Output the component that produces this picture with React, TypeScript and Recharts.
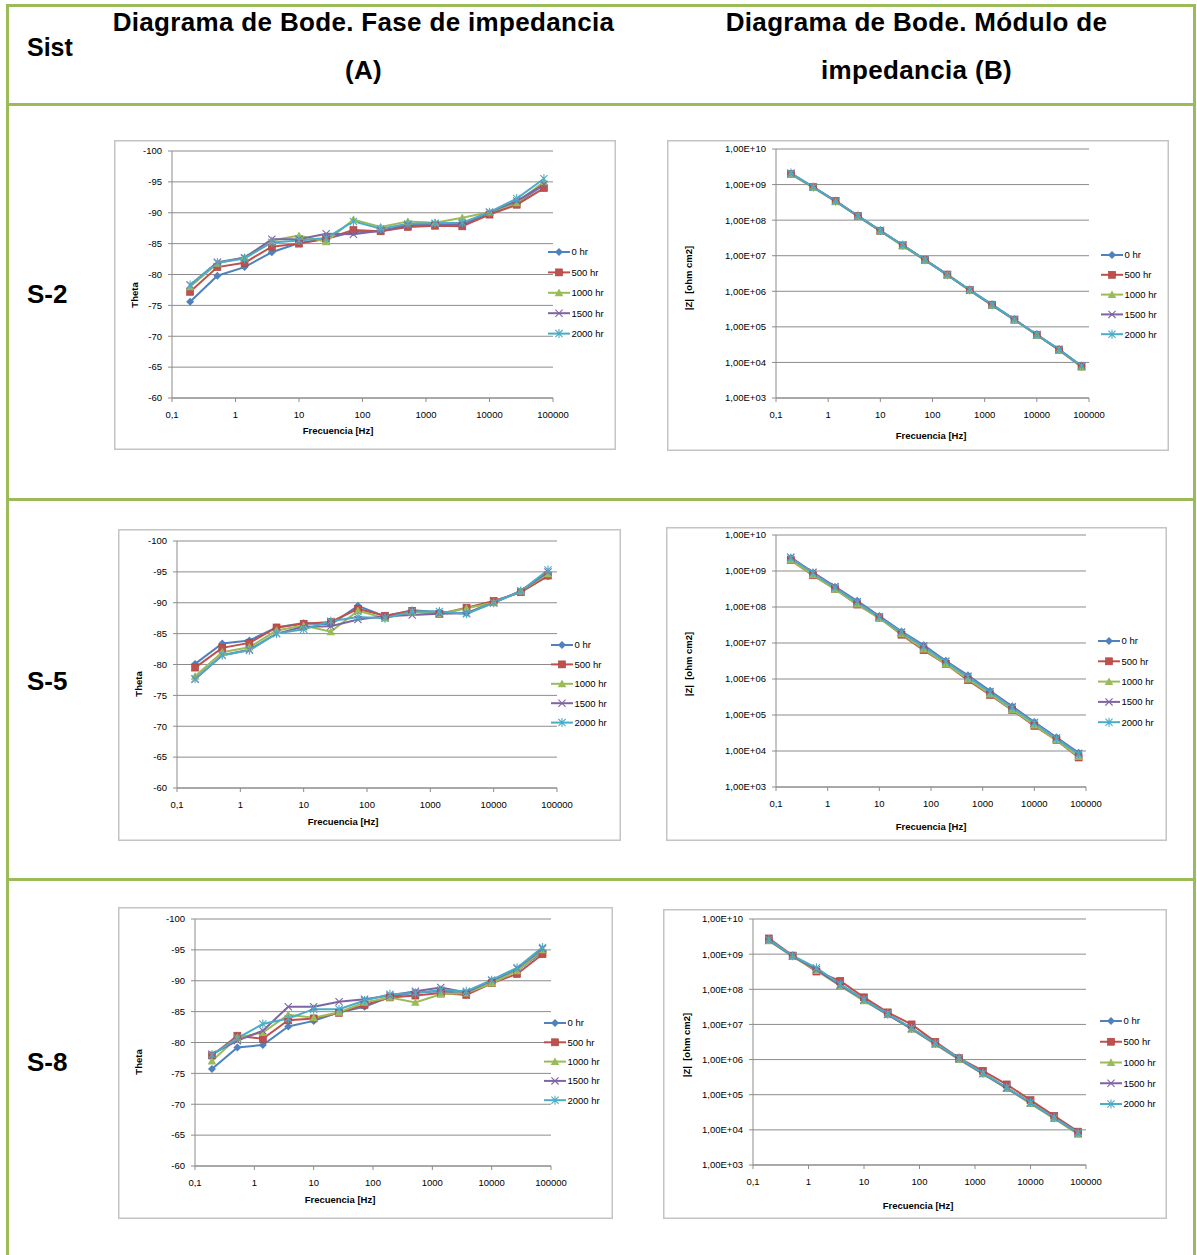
import React from 'react';
import { LineChart, Line, XAxis, YAxis, CartesianGrid, Legend, Label } from 'recharts';

const FREQ = [0.193, 0.518, 1.39, 3.73, 10, 26.8, 72, 193, 518, 1390, 3730, 10000, 26800, 72000];
const SERIES_NAMES = ['0 hr', '500 hr', '1000 hr', '1500 hr', '2000 hr'];
const SERIES_COLORS = ['#4F81BD', '#C0504D', '#9BBB59', '#8064A2', '#4BACC6'];
const X_TICKS = [0.1, 1, 10, 100, 1000, 10000, 100000];
const PHASE_TICKS = [-100, -95, -90, -85, -80, -75, -70, -65, -60];
const MOD_TICKS = [1e3, 1e4, 1e5, 1e6, 1e7, 1e8, 1e9, 1e10];
const ROW_LABELS = ['S-2', 'S-5', 'S-8'];

// S-2 phase
const S2_PH_0 = [-75.6, -79.8, -81.2, -83.6, -85.1, -85.8, -86.9, -87.0, -87.8, -88.0, -88.0, -89.8, -91.6, -94.5];
const S2_PH_500 = [-77.2, -81.2, -81.9, -84.5, -85.0, -85.8, -87.2, -87.0, -87.7, -87.9, -87.8, -89.7, -91.3, -94.0];
const S2_PH_1000 = [-78.0, -81.8, -82.8, -85.5, -86.3, -85.3, -88.9, -87.7, -88.6, -88.4, -89.2, -90.1, -91.6, -95.0];
const S2_PH_1500 = [-78.3, -82.0, -82.7, -85.7, -85.7, -86.6, -86.5, -87.1, -88.0, -88.2, -88.2, -90.1, -91.9, -94.6];
const S2_PH_2000 = [-78.3, -81.9, -82.6, -85.2, -85.5, -85.9, -88.6, -87.4, -88.2, -88.3, -88.4, -90.1, -92.3, -95.5];

// S-5 phase
const S5_PH_0 = [-80.1, -83.4, -83.9, -86.0, -86.7, -86.5, -89.5, -87.8, -88.8, -88.5, -88.3, -90.1, -91.8, -94.3];
const S5_PH_500 = [-79.5, -82.7, -83.5, -86.0, -86.6, -86.9, -89.0, -87.9, -88.7, -88.2, -89.2, -90.3, -91.7, -94.4];
const S5_PH_1000 = [-78.1, -82.0, -82.8, -85.5, -86.3, -85.3, -88.7, -87.5, -88.5, -88.2, -89.1, -90.0, -91.9, -94.7];
const S5_PH_1500 = [-77.6, -81.5, -82.4, -85.0, -86.1, -86.2, -87.3, -87.8, -88.0, -88.2, -88.3, -90.0, -91.9, -95.0];
const S5_PH_2000 = [-77.7, -81.5, -82.3, -85.0, -85.7, -87.0, -87.7, -87.5, -88.6, -88.6, -88.2, -90.0, -91.9, -95.3];

// S-8 phase
const S8_PH_0 = [-75.7, -79.2, -79.6, -82.6, -83.5, -84.9, -85.8, -87.4, -88.1, -88.3, -88.0, -90.0, -91.6, -94.7];
const S8_PH_500 = [-77.9, -81.1, -80.6, -83.6, -83.9, -84.8, -86.1, -87.3, -87.6, -88.0, -87.7, -89.6, -91.1, -94.3];
const S8_PH_1000 = [-77.0, -80.8, -81.6, -84.5, -84.0, -84.9, -86.5, -87.3, -86.5, -87.8, -88.0, -89.6, -91.6, -95.0];
const S8_PH_1500 = [-78.1, -80.3, -81.9, -85.8, -85.8, -86.6, -87.0, -87.6, -88.3, -88.9, -88.1, -90.1, -92.0, -95.2];
const S8_PH_2000 = [-78.0, -80.7, -83.0, -83.9, -85.4, -85.4, -86.8, -87.8, -88.0, -88.5, -88.3, -90.1, -92.1, -95.4];

// S-2 modulus
const S2_MOD_0 = [2.0e9, 8.4e8, 3.4e8, 1.3e8, 5.0e7, 1.95e7, 7.6e6, 2.9e6, 1.07e6, 4.1e5, 1.6e5, 6.0e4, 2.25e4, 7.8e3];
const S2_MOD_500 = [2.0e9, 8.5e8, 3.5e8, 1.32e8, 5.0e7, 1.95e7, 7.7e6, 2.95e6, 1.08e6, 4.2e5, 1.6e5, 6.0e4, 2.3e4, 7.7e3];
const S2_MOD_1000 = [1.95e9, 8.2e8, 3.3e8, 1.28e8, 4.9e7, 1.9e7, 7.4e6, 2.85e6, 1.05e6, 4.0e5, 1.55e5, 5.8e4, 2.2e4, 7.4e3];
const S2_MOD_1500 = [2.05e9, 8.5e8, 3.4e8, 1.3e8, 5.1e7, 2.0e7, 7.6e6, 2.9e6, 1.07e6, 4.1e5, 1.6e5, 6.0e4, 2.25e4, 7.9e3];
const S2_MOD_2000 = [2.1e9, 8.6e8, 3.4e8, 1.33e8, 5.1e7, 2.0e7, 7.7e6, 2.9e6, 1.1e6, 4.2e5, 1.6e5, 6.1e4, 2.3e4, 8.0e3];

// S-5 modulus
const S5_MOD_0 = [2.3e9, 9.0e8, 3.6e8, 1.48e8, 5.6e7, 2.1e7, 8.7e6, 3.2e6, 1.27e6, 4.7e5, 1.75e5, 6.4e4, 2.4e4, 8.9e3];
const S5_MOD_500 = [2.0e9, 7.6e8, 3.2e8, 1.17e8, 5.1e7, 1.7e7, 6.3e6, 2.6e6, 9.3e5, 3.6e5, 1.36e5, 5.0e4, 2.0e4, 6.6e3];
const S5_MOD_1000 = [2.0e9, 7.8e8, 3.1e8, 1.2e8, 4.8e7, 1.8e7, 6.8e6, 2.6e6, 1.0e6, 3.8e5, 1.4e5, 5.2e4, 2.0e4, 7.0e3];
const S5_MOD_1500 = [2.4e9, 9.2e8, 3.7e8, 1.4e8, 5.4e7, 2.0e7, 8.2e6, 3.1e6, 1.2e6, 4.5e5, 1.7e5, 6.2e4, 2.3e4, 8.6e3];
const S5_MOD_2000 = [2.3e9, 8.8e8, 3.4e8, 1.35e8, 5.2e7, 2.0e7, 7.8e6, 3.0e6, 1.15e6, 4.3e5, 1.6e5, 6.0e4, 2.2e4, 8.2e3];

// S-8 modulus
const S8_MOD_0 = [2.6e9, 8.8e8, 3.5e8, 1.35e8, 5.0e7, 1.9e7, 7.6e6, 2.8e6, 1.05e6, 4.0e5, 1.6e5, 5.8e4, 2.2e4, 8.2e3];
const S8_MOD_500 = [2.8e9, 9.1e8, 3.2e8, 1.73e8, 5.9e7, 2.2e7, 1.0e7, 3.2e6, 1.1e6, 4.8e5, 1.96e5, 7.0e4, 2.5e4, 8.9e3];
const S8_MOD_1000 = [2.4e9, 8.5e8, 3.4e8, 1.25e8, 4.7e7, 1.9e7, 7.3e6, 2.7e6, 1.0e6, 3.9e5, 1.5e5, 5.6e4, 2.1e4, 7.5e3];
const S8_MOD_1500 = [2.5e9, 8.7e8, 3.6e8, 1.3e8, 5.0e7, 1.9e7, 7.6e6, 2.8e6, 1.05e6, 4.0e5, 1.55e5, 5.8e4, 2.2e4, 8.0e3];
const S8_MOD_2000 = [2.6e9, 9.0e8, 4.1e8, 1.4e8, 5.1e7, 2.0e7, 7.8e6, 2.9e6, 1.1e6, 4.1e5, 1.6e5, 6.0e4, 2.2e4, 8.3e3];

const GREEN = '#9BBB59';
const FONT = '"Liberation Sans", Arial, sans-serif';
const SMALL = 9.5;

type Cfg = {
  kind: 'phase' | 'mod';
  series: number[][];
  box: number[];
  plot: number[];
  legend: number[];
  ylab: number[];
  xlab: number[];
};

const CHARTS: Cfg[] = [
  { kind: 'phase', series: [S2_PH_0, S2_PH_500, S2_PH_1000, S2_PH_1500, S2_PH_2000],
    box: [114, 140, 502, 310], plot: [172, 151, 553, 398], legend: [548, 252.3, 20.4], ylab: [135, 295], xlab: [338, 431] },
  { kind: 'mod', series: [S2_MOD_0, S2_MOD_500, S2_MOD_1000, S2_MOD_1500, S2_MOD_2000],
    box: [667, 140, 502, 311], plot: [776, 149, 1089, 398], legend: [1101, 254.7, 19.8], ylab: [689, 278], xlab: [931, 436] },
  { kind: 'phase', series: [S5_PH_0, S5_PH_500, S5_PH_1000, S5_PH_1500, S5_PH_2000],
    box: [118, 529, 503, 312], plot: [177, 541, 557, 788], legend: [551, 645.3, 19.4], ylab: [139, 684], xlab: [343, 822] },
  { kind: 'mod', series: [S5_MOD_0, S5_MOD_500, S5_MOD_1000, S5_MOD_1500, S5_MOD_2000],
    box: [666, 527, 501, 314], plot: [776, 535, 1086, 787], legend: [1098, 641.3, 20.3], ylab: [689, 664], xlab: [931, 827] },
  { kind: 'phase', series: [S8_PH_0, S8_PH_500, S8_PH_1000, S8_PH_1500, S8_PH_2000],
    box: [118, 907, 495, 312], plot: [195, 919, 551, 1166], legend: [544, 1023.3, 19.3], ylab: [139, 1062], xlab: [340, 1200] },
  { kind: 'mod', series: [S8_MOD_0, S8_MOD_500, S8_MOD_1000, S8_MOD_1500, S8_MOD_2000],
    box: [663, 909, 504, 310], plot: [753, 919, 1086, 1165], legend: [1100, 1021, 20.75], ylab: [687, 1045], xlab: [918, 1206] },
];

function Marker({ kind, cx, cy }: { kind: number; cx: number; cy: number }) {
  const c = SERIES_COLORS[kind];
  if (cx == null || cy == null || isNaN(cx) || isNaN(cy)) return null;
  switch (kind) {
    case 0:
      return <polygon points={`${cx},${cy - 4} ${cx + 4},${cy} ${cx},${cy + 4} ${cx - 4},${cy}`} fill={c} />;
    case 1:
      return <rect x={cx - 3.5} y={cy - 3.5} width={7} height={7} fill={c} stroke="#a5403d" strokeWidth={0.6} />;
    case 2:
      return <polygon points={`${cx},${cy - 4.2} ${cx + 4.3},${cy + 3.4} ${cx - 4.3},${cy + 3.4}`} fill={c} />;
    case 3:
      return (
        <path d={`M${cx - 3.6},${cy - 3.6}L${cx + 3.6},${cy + 3.6}M${cx - 3.6},${cy + 3.6}L${cx + 3.6},${cy - 3.6}`}
          stroke={c} strokeWidth={1.1} fill="none" />
      );
    default:
      return (
        <path d={`M${cx - 3.6},${cy - 3.6}L${cx + 3.6},${cy + 3.6}M${cx - 3.6},${cy + 3.6}L${cx + 3.6},${cy - 3.6}M${cx},${cy - 4.5}L${cx},${cy + 4.5}`}
          stroke={c} strokeWidth={1.1} fill="none" />
      );
  }
}

function LegendBox({ gap }: { gap: number }) {
  return (
    <svg width={80} height={20 + gap * 4} style={{ display: 'block', overflow: 'visible' }}>
      {SERIES_NAMES.map((name, k) => {
        const y = 10 + k * gap;
        return (
          <g key={name}>
            <line x1={0} y1={y} x2={22} y2={y} stroke={SERIES_COLORS[k]} strokeWidth={2} />
            <Marker kind={k} cx={11} cy={y} />
            <text x={23.5} y={y} dy="0.35em" fontSize={SMALL} fontFamily={FONT} fill="#000">{name}</text>
          </g>
        );
      })}
    </svg>
  );
}

const fmtX = (v: number) => String(v).replace('.', ',');
const fmtMod = (v: number) => {
  const e = Math.round(Math.log10(v));
  return '1,00E+' + String(e).padStart(2, '0');
};

function BodeChart({ cfg }: { cfg: Cfg }) {
  const [bx, by, bw, bh] = cfg.box;
  const [pl, pt, pr, pb] = cfg.plot;
  const isPhase = cfg.kind === 'phase';
  const data = FREQ.map((f, i) => {
    const row: any = { f };
    cfg.series.forEach((arr, k) => { row['s' + k] = arr[i]; });
    return row;
  });
  const tickStyle = { fontSize: SMALL, fill: '#000', fontFamily: FONT };
  const yx = cfg.ylab[0] - bx;
  const yy = cfg.ylab[1] - by;
  const xx = cfg.xlab[0] - bx;
  const xy = cfg.xlab[1] - by;
  const yTitle = isPhase ? 'Theta' : '|Z|  [ohm cm2]';
  return (
    <div style={{ position: 'absolute', left: bx, top: by, width: bw, height: bh, boxShadow: 'inset 0 0 0 1.5px #c4c4c4' }}>
      <LineChart width={bw} height={bh} data={data}
        margin={{ top: pt - by, right: bx + bw - pr, left: 0, bottom: 0 }}>
        <CartesianGrid vertical={false} stroke="#8c8c8c" strokeWidth={1} />
        <XAxis dataKey="f" type="number" scale="log" domain={[0.1, 100000]} ticks={X_TICKS}
          allowDataOverflow height={by + bh - pb} tickFormatter={fmtX} tick={tickStyle}
          tickSize={4} tickMargin={9.5} stroke="#8c8c8c" interval={0}>
          <Label content={() => (
            <text x={xx} y={xy} dy="0.35em" textAnchor="middle" fontSize={SMALL} fontWeight="bold" fontFamily={FONT} fill="#000">
              Frecuencia [Hz]
            </text>
          )} />
        </XAxis>
        {isPhase ? (
          <YAxis type="number" domain={[-100, -60]} reversed ticks={PHASE_TICKS} allowDataOverflow
            width={pl - bx} tick={tickStyle} tickSize={4} tickMargin={6} stroke="#8c8c8c" interval={0}>
            <Label content={() => (
              <text x={yx} y={yy} dy="0.35em" textAnchor="middle" fontSize={SMALL} fontWeight="bold" fontFamily={FONT}
                fill="#000" transform={`rotate(-90 ${yx} ${yy})`}>{yTitle}</text>
            )} />
          </YAxis>
        ) : (
          <YAxis type="number" scale="log" domain={[1e3, 1e10]} ticks={MOD_TICKS} allowDataOverflow
            width={pl - bx} tick={tickStyle} tickSize={4} tickMargin={6} stroke="#8c8c8c" interval={0}
            tickFormatter={fmtMod}>
            <Label content={() => (
              <text x={yx} y={yy} dy="0.35em" textAnchor="middle" fontSize={SMALL} fontWeight="bold" fontFamily={FONT}
                fill="#000" transform={`rotate(-90 ${yx} ${yy})`} style={{ whiteSpace: 'pre' }}>{yTitle}</text>
            )} />
          </YAxis>
        )}
        <Legend layout="horizontal" align="center" verticalAlign="middle"
          wrapperStyle={{ left: cfg.legend[0] - bx, top: cfg.legend[1] - by - 10, width: 80, height: 20 + cfg.legend[2] * 4 }}
          content={() => <LegendBox gap={cfg.legend[2]} />} />
        {SERIES_NAMES.map((name, k) => (
          <Line key={name} name={name} dataKey={'s' + k} type="linear" stroke={SERIES_COLORS[k]} strokeWidth={2}
            isAnimationActive={false} activeDot={false}
            dot={(p: any) => <Marker key={'d' + k + '-' + p.index} kind={k} cx={p.cx} cy={p.cy} />} />
        ))}
      </LineChart>
    </div>
  );
}

const hLine = (y: number) => (
  <div key={'h' + y} style={{ position: 'absolute', left: 6, top: y, width: 1190, height: 3, background: GREEN }} />
);

export default function App() {
  const headStyle: React.CSSProperties = {
    position: 'absolute', fontFamily: FONT, fontWeight: 'bold', fontSize: 26, lineHeight: '48px', color: '#000',
    textAlign: 'center', whiteSpace: 'nowrap',
  };
  return (
    <div style={{ position: 'absolute', left: 0, top: 0, width: 1197, height: 1255, background: '#fff', overflow: 'hidden' }}>
      {hLine(4)}
      {hLine(103)}
      {hLine(498)}
      {hLine(878)}
      <div style={{ position: 'absolute', left: 6, top: 4, width: 3, height: 1251, background: GREEN }} />
      <div style={{ position: 'absolute', left: 1193, top: 4, width: 3, height: 1251, background: GREEN }} />

      <div style={{ ...headStyle, left: 27, top: 23, textAlign: 'left', fontSize: 25 }}>Sist</div>
      <div style={{ ...headStyle, left: 363.5 - 300, top: -2, width: 600, letterSpacing: 0.33 }}>
        Diagrama de Bode. Fase de impedancia<br />(A)
      </div>
      <div style={{ ...headStyle, left: 916.5 - 300, top: -2, width: 600, letterSpacing: 0.33 }}>
        Diagrama de Bode. Módulo de<br />impedancia (B)
      </div>
      {ROW_LABELS.map((r, i) => (
        <div key={r} style={{ ...headStyle, left: 27, top: [270, 657, 1038][i], textAlign: 'left' }}>{r}</div>
      ))}

      {CHARTS.map((cfg, i) => <BodeChart key={i} cfg={cfg} />)}
    </div>
  );
}
